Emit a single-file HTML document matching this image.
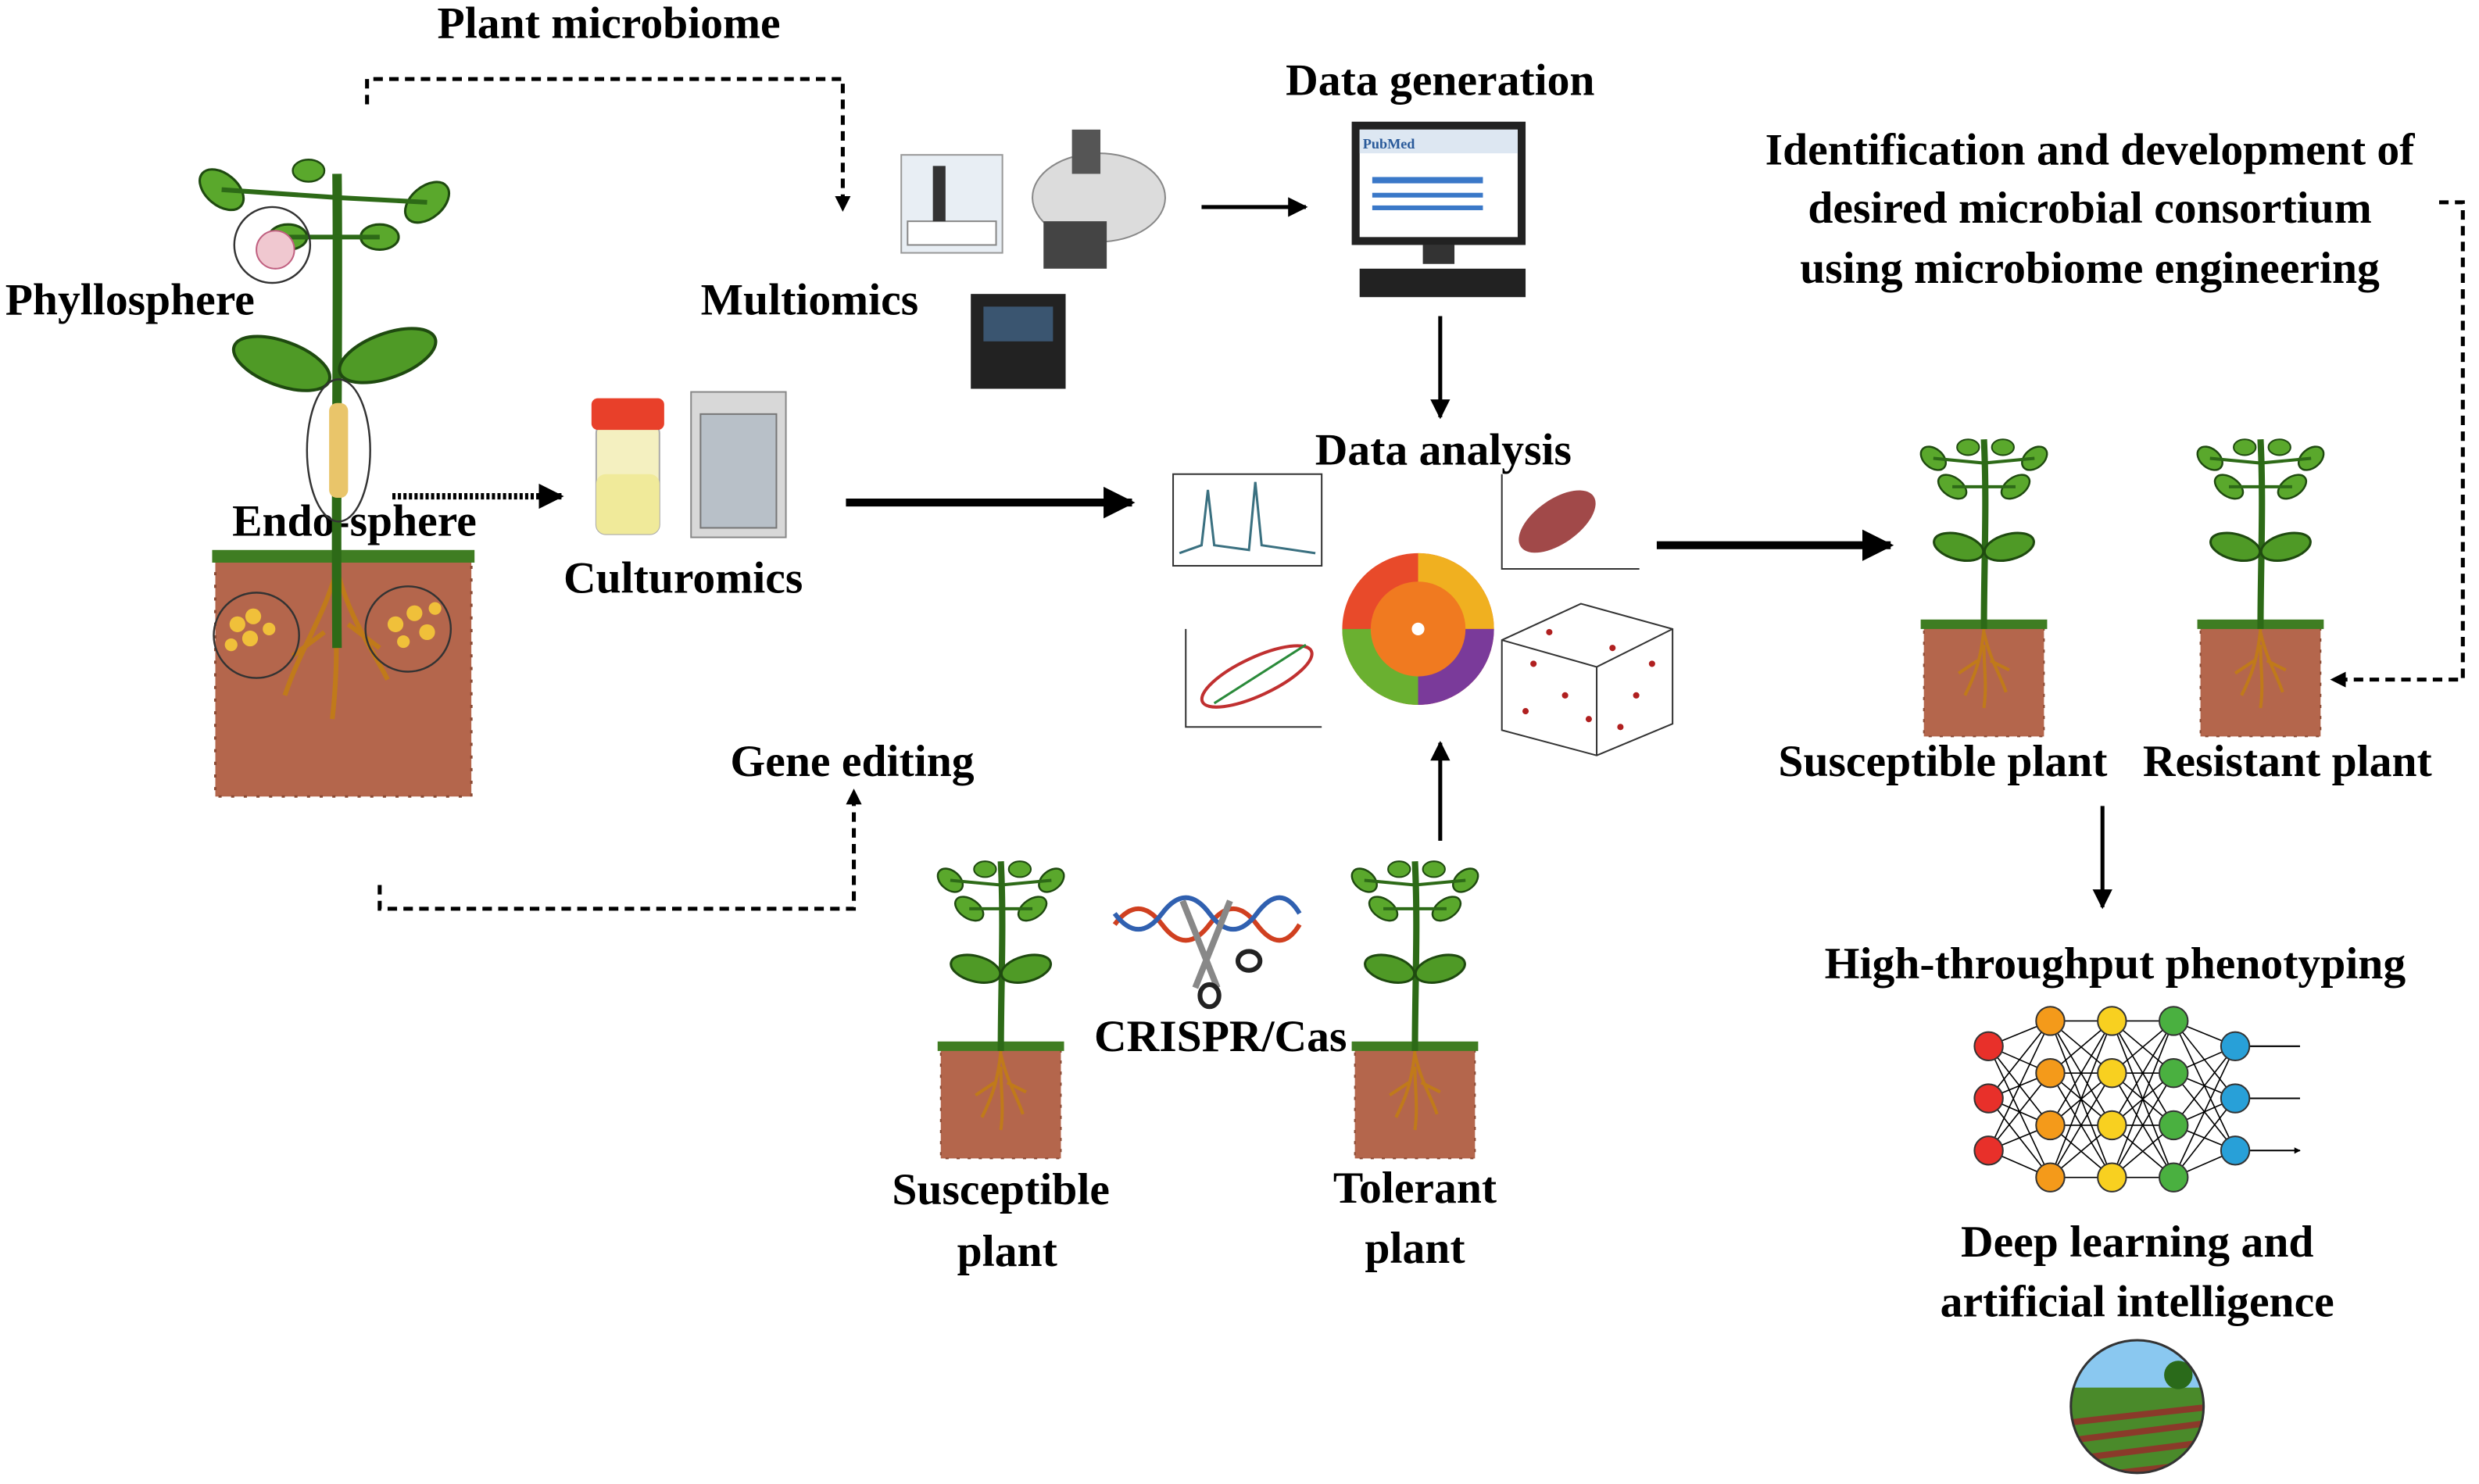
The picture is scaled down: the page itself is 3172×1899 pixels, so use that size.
<!DOCTYPE html>
<html><head><meta charset="utf-8"><style>
html,body{margin:0;padding:0;background:#fff;}
svg{display:block;}
text{font-family:"Liberation Serif",serif;font-weight:bold;fill:#000;}
</style></head><body>
<svg width="3172" height="1899" viewBox="0 0 1568 939" xmlns="http://www.w3.org/2000/svg">
<defs>
<marker id="ah" viewBox="0 0 10 10" refX="9" refY="5" markerWidth="5" markerHeight="5" orient="auto"><path d="M0,0L10,5L0,10z" fill="#000"/></marker>
<marker id="ah2" viewBox="0 0 10 10" refX="9" refY="5" markerWidth="4" markerHeight="4" orient="auto"><path d="M0,0L10,5L0,10z" fill="#000"/></marker>
<symbol id="plant" viewBox="0 0 100 200">
<rect x="12" y="128" width="76" height="70" fill="#b4664c"/>
<rect x="12" y="128" width="76" height="70" fill="none" stroke="#8a4a34" stroke-width="1" stroke-dasharray="2 5"/>
<rect x="10" y="124" width="80" height="6" fill="#3f7d22"/>
<path d="M50,130 C48,150 44,160 38,172 M50,132 C54,150 60,158 64,170 M50,140 C50,155 52,165 50,180 M46,150 L34,158 M54,150 L66,156" stroke="#c07a1a" stroke-width="2" fill="none"/>
<path d="M50,130 C50,90 52,50 50,10" stroke="#2d6a17" stroke-width="4" fill="none"/>
<ellipse cx="34" cy="78" rx="16" ry="8" fill="#4f9a26" stroke="#1f4a10" stroke-width="1.5" transform="rotate(15 34 78)"/>
<ellipse cx="66" cy="78" rx="16" ry="8" fill="#4f9a26" stroke="#1f4a10" stroke-width="1.5" transform="rotate(-15 66 78)"/>
<ellipse cx="30" cy="40" rx="10" ry="6" fill="#5aa82c" stroke="#1f4a10" stroke-width="1.2" transform="rotate(35 30 40)"/>
<ellipse cx="70" cy="40" rx="10" ry="6" fill="#5aa82c" stroke="#1f4a10" stroke-width="1.2" transform="rotate(-35 70 40)"/>
<ellipse cx="18" cy="22" rx="9" ry="6" fill="#5aa82c" stroke="#1f4a10" stroke-width="1.2" transform="rotate(40 18 22)"/>
<ellipse cx="82" cy="22" rx="9" ry="6" fill="#5aa82c" stroke="#1f4a10" stroke-width="1.2" transform="rotate(-40 82 22)"/>
<ellipse cx="40" cy="15" rx="7" ry="5" fill="#5aa82c" stroke="#1f4a10" stroke-width="1"/>
<ellipse cx="62" cy="15" rx="7" ry="5" fill="#5aa82c" stroke="#1f4a10" stroke-width="1"/>
<path d="M50,40 L30,40 M50,40 L70,40 M50,25 L18,22 M50,25 L82,22" stroke="#2d6a17" stroke-width="2"/>
</symbol>
</defs>

<g font-size="28.5" text-anchor="middle">
<text x="385" y="24">Plant microbiome</text>
<text x="911" y="60">Data generation</text>
<text x="913" y="294">Data analysis</text>
<text x="512" y="199">Multiomics</text>
<text x="432" y="375">Culturomics</text>
<text x="82" y="199">Phyllosphere</text>
<text x="224" y="339">Endo-sphere</text>
<text x="218" y="476">Rhizosphere</text>
<text x="539" y="491">Gene editing</text>
<text x="772" y="665">CRISPR/Cas</text>
<text x="633" y="762">Susceptible</text>
<text x="637" y="801">plant</text>
<text x="895" y="761">Tolerant</text>
<text x="895" y="799">plant</text>
<text x="1322" y="104">Identification and development of</text>
<text x="1322" y="141">desired microbial consortium</text>
<text x="1322" y="179">using microbiome engineering</text>
<text x="1229" y="491">Susceptible plant</text>
<text x="1447" y="491">Resistant plant</text>
<text x="1338" y="619">High-throughput phenotyping</text>
<text x="1352" y="795">Deep learning and</text>
<text x="1352" y="833">artificial intelligence</text>
</g>

<!-- Dashed connectors -->
<path d="M232,66 L232,50 L533,50 L533,133" fill="none" stroke="#000" stroke-width="2.5" stroke-dasharray="6 4" marker-end="url(#ah2)"/>
<path d="M240,560 L240,575 L540,575 L540,500" fill="none" stroke="#000" stroke-width="2.5" stroke-dasharray="6 4" marker-end="url(#ah2)"/>
<path d="M1543,128 L1558,128 L1558,430 L1475,430" fill="none" stroke="#000" stroke-width="2.5" stroke-dasharray="6 4" marker-end="url(#ah2)"/>
<path d="M248,314 L355,314" stroke="#000" stroke-width="4" stroke-dasharray="2 1.5" marker-end="url(#ah2)"/>

<!-- Solid arrows -->
<path d="M760,131 L826,131" stroke="#000" stroke-width="2.5" marker-end="url(#ah)"/>
<path d="M911,200 L911,264" stroke="#000" stroke-width="2.5" marker-end="url(#ah)"/>
<path d="M535,318 L716,318" stroke="#000" stroke-width="5" marker-end="url(#ah2)"/>
<path d="M1048,345 L1196,345" stroke="#000" stroke-width="5" marker-end="url(#ah2)"/>
<path d="M911,532 L911,470" stroke="#000" stroke-width="2.5" marker-end="url(#ah)"/>
<path d="M1330,510 L1330,574" stroke="#000" stroke-width="2.5" marker-end="url(#ah)"/>

<!-- Big plant -->
<rect x="136" y="352" width="162" height="152" fill="#b4664c"/>
<rect x="136" y="352" width="162" height="152" fill="none" stroke="#8a4a34" stroke-width="1.5" stroke-dasharray="2 6"/>
<rect x="134" y="348" width="166" height="8" fill="#3f7d22"/>
<path d="M213,360 C205,390 190,410 180,440 M213,360 C220,390 235,410 245,430 M213,370 C212,400 214,420 210,455 M205,400 L185,415 M220,395 L240,410" stroke="#c07a1a" stroke-width="3" fill="none"/>
<path d="M213,410 C212,300 214,200 213,110" stroke="#2d6a17" stroke-width="6" fill="none"/>
<ellipse cx="178" cy="230" rx="32" ry="14" fill="#4f9a26" stroke="#1f4a10" stroke-width="2" transform="rotate(20 178 230)"/>
<ellipse cx="245" cy="225" rx="32" ry="14" fill="#4f9a26" stroke="#1f4a10" stroke-width="2" transform="rotate(-20 245 225)"/>
<ellipse cx="140" cy="120" rx="16" ry="10" fill="#5aa82c" stroke="#1f4a10" stroke-width="1.5" transform="rotate(40 140 120)"/>
<ellipse cx="270" cy="128" rx="16" ry="10" fill="#5aa82c" stroke="#1f4a10" stroke-width="1.5" transform="rotate(-40 270 128)"/>
<ellipse cx="182" cy="150" rx="12" ry="8" fill="#5aa82c" stroke="#1f4a10" stroke-width="1.5"/>
<ellipse cx="240" cy="150" rx="12" ry="8" fill="#5aa82c" stroke="#1f4a10" stroke-width="1.5"/>
<ellipse cx="195" cy="108" rx="10" ry="7" fill="#5aa82c" stroke="#1f4a10" stroke-width="1.2"/>
<path d="M213,150 L182,150 M213,150 L240,150 M213,125 L140,120 M213,125 L270,128" stroke="#2d6a17" stroke-width="3"/>
<ellipse cx="214" cy="285" rx="20" ry="45" fill="none" stroke="#333" stroke-width="1.2"/>
<rect x="208" y="255" width="12" height="60" rx="5" fill="#e9c56a"/>
<circle cx="172" cy="155" r="24" fill="none" stroke="#333" stroke-width="1.2"/>
<circle cx="174" cy="158" r="12" fill="#f0c8d0" stroke="#c06080"/>
<circle cx="162" cy="402" r="27" fill="none" stroke="#333" stroke-width="1.2"/>
<circle cx="258" cy="398" r="27" fill="none" stroke="#333" stroke-width="1.2"/>
<g fill="#f0c03a"><circle cx="150" cy="395" r="5"/><circle cx="160" cy="390" r="5"/><circle cx="158" cy="404" r="5"/><circle cx="170" cy="398" r="4"/><circle cx="146" cy="408" r="4"/>
<circle cx="250" cy="395" r="5"/><circle cx="262" cy="388" r="5"/><circle cx="270" cy="400" r="5"/><circle cx="255" cy="406" r="4"/><circle cx="275" cy="385" r="4"/></g>

<!-- Multiomics instruments -->
<rect x="570" y="98" width="64" height="62" fill="#e8eef4" stroke="#999"/>
<rect x="574" y="140" width="56" height="15" fill="#fff" stroke="#888"/>
<rect x="590" y="105" width="8" height="35" fill="#333"/>
<ellipse cx="695" cy="125" rx="42" ry="28" fill="#dcdcdc" stroke="#888"/>
<rect x="678" y="82" width="18" height="28" fill="#555"/>
<rect x="660" y="140" width="40" height="30" fill="#444"/>
<rect x="614" y="186" width="60" height="60" fill="#222"/>
<rect x="622" y="194" width="44" height="22" fill="#3a5570"/>

<!-- Computer -->
<rect x="855" y="77" width="110" height="78" fill="#222"/>
<rect x="860" y="82" width="100" height="68" fill="#fff"/>
<rect x="860" y="82" width="100" height="15" fill="#dde7f2"/>
<text x="862" y="94" font-size="9" style="fill:#2a5a9a">PubMed</text>
<rect x="868" y="112" width="70" height="4" fill="#3a78c8"/>
<rect x="868" y="122" width="70" height="3" fill="#3a78c8"/>
<rect x="868" y="130" width="70" height="3" fill="#3a78c8"/>
<rect x="900" y="155" width="20" height="12" fill="#333"/>
<rect x="860" y="170" width="105" height="18" fill="#222"/>

<!-- Culturomics -->
<rect x="377" y="268" width="40" height="70" rx="6" fill="#f4f0c0" stroke="#aaa"/>
<rect x="377" y="300" width="40" height="38" rx="6" fill="#f0ea9a"/>
<rect x="374" y="252" width="46" height="20" rx="4" fill="#e8402a"/>
<rect x="437" y="248" width="60" height="92" fill="#d8d8d8" stroke="#888"/>
<rect x="443" y="262" width="48" height="72" fill="#b8c0c8" stroke="#777"/>

<!-- Charts -->
<rect x="742" y="300" width="94" height="58" fill="#fff" stroke="#333"/>
<path d="M746,350 L760,345 L764,310 L768,345 L790,348 L794,305 L798,345 L832,350" fill="none" stroke="#3a7080" stroke-width="1.5"/>
<path d="M950,300 L950,360 L1037,360" fill="none" stroke="#333"/>
<ellipse cx="985" cy="330" rx="28" ry="14" fill="#8a1c1c" opacity="0.8" transform="rotate(-35 985 330)"/>
<path d="M750,398 L750,460 L836,460" fill="none" stroke="#333"/>
<ellipse cx="795" cy="428" rx="38" ry="12" fill="none" stroke="#c03030" stroke-width="2" transform="rotate(-25 795 428)"/>
<path d="M768,445 L826,408" stroke="#2a8a3a" stroke-width="1.5"/>
<circle cx="897" cy="398" r="48" fill="#e84a2a"/>
<path d="M897,398 L897,350 A48,48 0 0,1 945,398 Z" fill="#f0b020"/>
<path d="M897,398 L945,398 A48,48 0 0,1 897,446 Z" fill="#7a3a9a"/>
<path d="M897,398 L897,446 A48,48 0 0,1 849,398 Z" fill="#6ab030"/>
<circle cx="897" cy="398" r="30" fill="#f07a20"/>
<circle cx="897" cy="398" r="4" fill="#fff"/>
<path d="M950,405 L1000,382 L1058,398 L1058,458 L1010,478 L950,462 Z" fill="none" stroke="#333"/>
<path d="M950,405 L1010,422 L1058,398 M1010,422 L1010,478" fill="none" stroke="#333"/>
<g fill="#b02020"><circle cx="970" cy="420" r="2"/><circle cx="990" cy="440" r="2"/><circle cx="1020" cy="410" r="2"/><circle cx="1035" cy="440" r="2"/><circle cx="965" cy="450" r="2"/><circle cx="1005" cy="455" r="2"/><circle cx="1045" cy="420" r="2"/><circle cx="980" cy="400" r="2"/><circle cx="1025" cy="460" r="2"/></g>

<!-- Right plants -->
<use href="#plant" x="1205" y="268" width="100" height="200"/>
<use href="#plant" x="1380" y="268" width="100" height="200"/>
<!-- Bottom plants -->
<use href="#plant" x="583" y="535" width="100" height="200"/>
<use href="#plant" x="845" y="535" width="100" height="200"/>

<!-- DNA + scissors -->
<path d="M705,585 Q720,565 735,585 T765,585 T795,585 T822,585" fill="none" stroke="#d04020" stroke-width="3"/>
<path d="M705,578 Q720,598 735,578 T765,578 T795,578 T822,578" fill="none" stroke="#3060b0" stroke-width="3"/>
<path d="M748,570 L770,625 M778,570 L756,625" stroke="#888" stroke-width="4"/>
<ellipse cx="765" cy="630" rx="6" ry="7" fill="none" stroke="#222" stroke-width="3"/>
<ellipse cx="790" cy="608" rx="7" ry="6" fill="none" stroke="#222" stroke-width="3"/>

<!-- Neural net -->
<g stroke="#000" stroke-width="0.8">
<path d="M1258,662 L1297,646 M1258,662 L1297,679 M1258,662 L1297,712 M1258,662 L1297,745 M1258,695 L1297,646 M1258,695 L1297,679 M1258,695 L1297,712 M1258,695 L1297,745 M1258,728 L1297,646 M1258,728 L1297,679 M1258,728 L1297,712 M1258,728 L1297,745
M1297,646 L1336,646 M1297,646 L1336,679 M1297,646 L1336,712 M1297,646 L1336,745 M1297,679 L1336,646 M1297,679 L1336,679 M1297,679 L1336,712 M1297,679 L1336,745 M1297,712 L1336,646 M1297,712 L1336,679 M1297,712 L1336,712 M1297,712 L1336,745 M1297,745 L1336,646 M1297,745 L1336,679 M1297,745 L1336,712 M1297,745 L1336,745
M1336,646 L1375,646 M1336,646 L1375,679 M1336,646 L1375,712 M1336,646 L1375,745 M1336,679 L1375,646 M1336,679 L1375,679 M1336,679 L1375,712 M1336,679 L1375,745 M1336,712 L1375,646 M1336,712 L1375,679 M1336,712 L1375,712 M1336,712 L1375,745 M1336,745 L1375,646 M1336,745 L1375,679 M1336,745 L1375,712 M1336,745 L1375,745
M1375,646 L1414,662 M1375,646 L1414,695 M1375,646 L1414,728 M1375,679 L1414,662 M1375,679 L1414,695 M1375,679 L1414,728 M1375,712 L1414,662 M1375,712 L1414,695 M1375,712 L1414,728 M1375,745 L1414,662 M1375,745 L1414,695 M1375,745 L1414,728"/>
</g>
<path d="M1414,662 L1455,662 M1414,695 L1455,695 M1414,728 L1455,728" stroke="#000" stroke-width="1" marker-end="url(#ah2)"/>
<g stroke="#333" stroke-width="1">
<circle cx="1258" cy="662" r="9" fill="#e8302a"/><circle cx="1258" cy="695" r="9" fill="#e8302a"/><circle cx="1258" cy="728" r="9" fill="#e8302a"/>
<circle cx="1297" cy="646" r="9" fill="#f49a1a"/><circle cx="1297" cy="679" r="9" fill="#f49a1a"/><circle cx="1297" cy="712" r="9" fill="#f49a1a"/><circle cx="1297" cy="745" r="9" fill="#f49a1a"/>
<circle cx="1336" cy="646" r="9" fill="#f8d020"/><circle cx="1336" cy="679" r="9" fill="#f8d020"/><circle cx="1336" cy="712" r="9" fill="#f8d020"/><circle cx="1336" cy="745" r="9" fill="#f8d020"/>
<circle cx="1375" cy="646" r="9" fill="#4ab040"/><circle cx="1375" cy="679" r="9" fill="#4ab040"/><circle cx="1375" cy="712" r="9" fill="#4ab040"/><circle cx="1375" cy="745" r="9" fill="#4ab040"/>
<circle cx="1414" cy="662" r="9" fill="#28a0d8"/><circle cx="1414" cy="695" r="9" fill="#28a0d8"/><circle cx="1414" cy="728" r="9" fill="#28a0d8"/>
</g>

<!-- Landscape circle -->
<clipPath id="cc"><circle cx="1352" cy="890" r="42"/></clipPath>
<g clip-path="url(#cc)">
<rect x="1300" y="840" width="110" height="100" fill="#8ac8f0"/>
<rect x="1300" y="878" width="110" height="70" fill="#4a8a2a"/>
<path d="M1310,900 L1400,890 M1305,912 L1400,900 M1305,924 L1400,912 M1305,936 L1400,925" stroke="#8a3a2a" stroke-width="4"/>
<circle cx="1378" cy="870" r="9" fill="#2a6a1a"/>
</g>
<circle cx="1352" cy="890" r="42" fill="none" stroke="#333" stroke-width="1.5"/>
</svg>
</body></html>
